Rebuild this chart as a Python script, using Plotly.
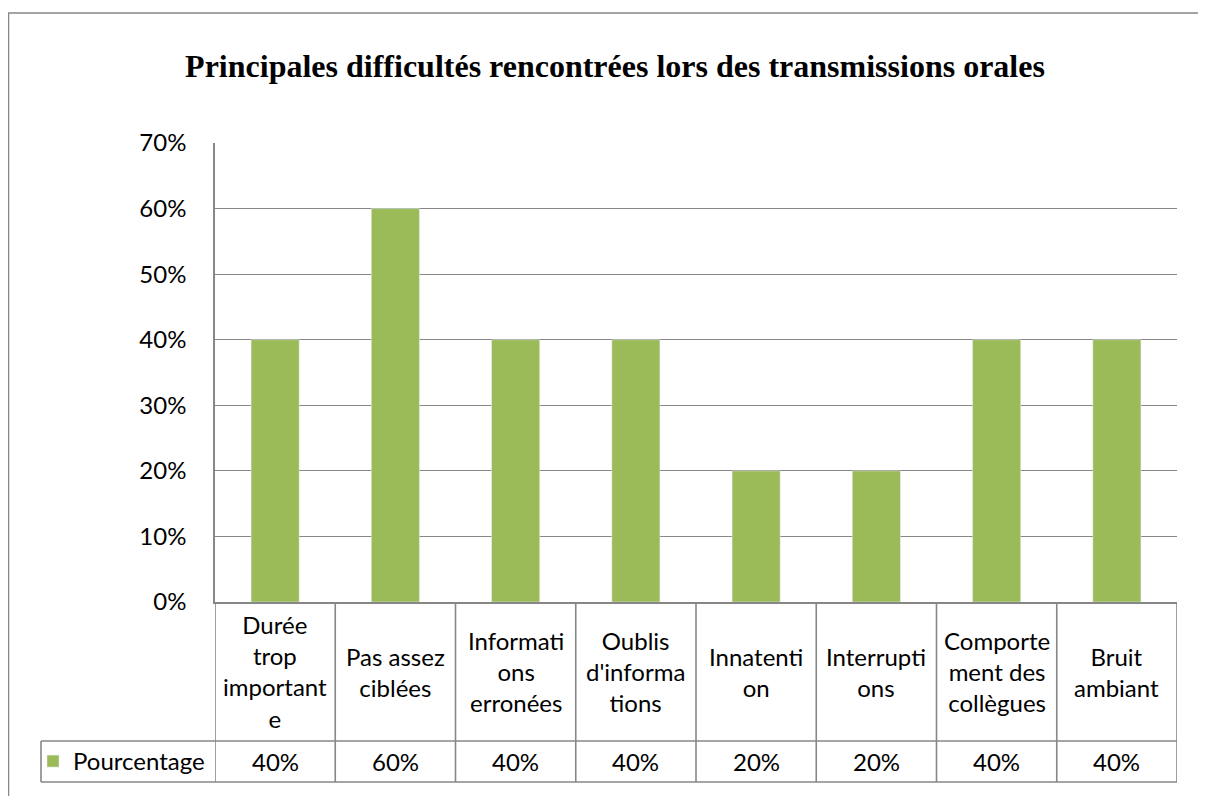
import plotly.graph_objects as go

categories = [
    "Durée<br>trop<br>important<br>e",
    "Pas assez<br>ciblées",
    "Informati<br>ons<br>erronées",
    "Oublis<br>d'informa<br>tions",
    "Innatenti<br>on",
    "Interrupti<br>ons",
    "Comporte<br>ment des<br>collègues",
    "Bruit<br>ambiant",
]
pourcentage = [0.40, 0.60, 0.40, 0.40, 0.20, 0.20, 0.40, 0.40]
series_name = "Pourcentage"
title = "Principales difficultés rencontrées lors des transmissions orales"

# the page puts the figure 8px in from the top-left corner
OFF = 8
W, H = 1206 - OFF, 796 - OFF
L, R, T, B = 215 - OFF, 1177 - OFF, 143 - OFF, 602 - OFF  # plot area
GREEN = "#9BBB59"
GRID = "#878787"
FONT = "Lato"


def py(y):
    # screen pixel row -> paper y
    return (B - (y - OFF)) / (B - T)


def px(x):
    return ((x - OFF) - L) / (R - L)


n = len(categories)
idx = list(range(n))

fig = go.Figure()
fig.add_trace(
    go.Bar(
        x=idx,
        y=pourcentage,
        name=series_name,
        marker_color=GREEN,
        width=0.4,
        showlegend=True,
    )
)

shapes = []
row1, row2 = py(741), py(782)
line = dict(color=GRID, width=1.6)
# vertical table lines
for i in range(n + 1):
    shapes.append(dict(type="line", xref="x", yref="paper", x0=i - 0.5, x1=i - 0.5,
                       y0=row2, y1=0, line=line))
# horizontal table lines
for yy in (row1, row2):
    shapes.append(dict(type="line", xref="paper", yref="paper", x0=px(41), x1=1,
                       y0=yy, y1=yy, line=line))
shapes.append(dict(type="line", xref="paper", yref="paper", x0=px(41), x1=px(41),
                   y0=row1, y1=row2, line=line))
# outer chart border
shapes.append(dict(type="rect", xref="paper", yref="paper", x0=px(8.5), x1=px(1230),
                   y0=py(830), y1=py(13), line=dict(color=GRID, width=1.5)))

annotations = []
for i, (c, v) in enumerate(zip(categories, pourcentage)):
    annotations.append(dict(x=i, y=py(671.5), xref="x", yref="paper", text=c,
                            showarrow=False, align="center", yanchor="middle",
                            font=dict(family=FONT, size=24, color="#000")))
    annotations.append(dict(x=i, y=py(761.5), xref="x", yref="paper",
                            text=f"{v:.0%}", showarrow=False, yanchor="middle",
                            font=dict(family=FONT, size=24, color="#000")))

fig.update_layout(
    width=W,
    height=H,
    margin=dict(l=L, r=W - R, t=T, b=H - B),
    plot_bgcolor="white",
    paper_bgcolor="white",
    title=dict(text=f"<b>{title}</b>", x=(615 - OFF) / W, xanchor="center",
               y=1 - (66 - OFF) / H, yanchor="middle", yref="container",
               font=dict(family="Liberation Serif", size=32, color="#000")),
    bargap=0.6,
    xaxis=dict(range=[-0.5, n - 0.5], showticklabels=False, showgrid=False,
               showline=True, linecolor=GRID, linewidth=1.6, zeroline=False),
    yaxis=dict(range=[0, 0.7], dtick=0.1, tickformat=".0%", showgrid=True,
               gridcolor=GRID, gridwidth=1.2, showline=True, linecolor=GRID,
               linewidth=1.6, zeroline=False, ticks="", ticklabelstandoff=22,
               tickfont=dict(family=FONT, size=24, color="#000")),
    legend=dict(x=px(33), xanchor="left", y=py(761.5), yanchor="middle",
                bgcolor="rgba(0,0,0,0)", font=dict(family=FONT, size=24, color="#000")),
    shapes=shapes,
    annotations=annotations,
)

fig.write_html("out.html")
